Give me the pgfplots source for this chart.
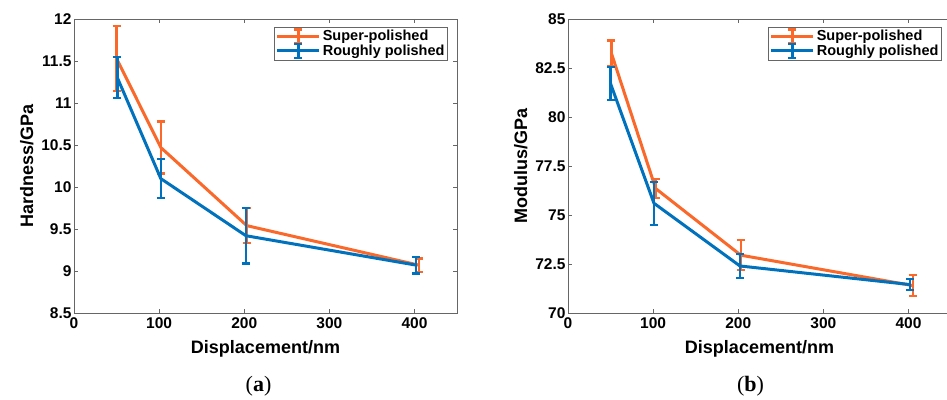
\documentclass[border=0pt]{standalone}
\usepackage{fontspec}
\setmainfont{Liberation Sans}
\newfontfamily\capfont{Liberation Serif}
\usepackage{pgfplots}
\pgfplotsset{compat=1.18}
\definecolor{morange}{RGB}{250,104,42}
\definecolor{mblue}{RGB}{0,114,189}
\pgfplotsset{
  myaxis/.style={
    scale only axis, width=383pt, height=294pt,
    xmin=0, xmax=450, xtick={0,100,200,300,400},
    tick align=inside, xtick pos=both, ytick pos=both,
    major tick length=4pt,
    axis line style={gray!80!black, line width=0.7pt},
    every tick/.style={gray!80!black, line width=0.7pt},
    /pgf/number format/assume math mode=true,
    tick label style={font=\fontsize{15.5}{17}\selectfont\bfseries},
    xticklabel style={yshift=-1pt},
    yticklabel style={xshift=1pt},
    label style={font=\fontsize{18}{20}\selectfont\bfseries},
    xlabel={Displacement/nm},
    xlabel style={yshift=-5pt},
    ylabel style={yshift=1pt},
    legend style={at={(0.976,0.973)}, anchor=north east, draw=gray!80!black, line width=0.7pt,
      font=\fontsize{14.5}{16}\selectfont\bfseries, cells={anchor=west}, inner sep=1pt, row sep=-2pt},
    legend image code/.code={
      \draw[line width=3pt] (0pt,0pt) -- (42pt,0pt);
      \draw[line width=2.4pt] (21pt,-7pt) -- (21pt,7pt);
      \draw[line width=2.2pt] (17pt,-7pt) -- (25pt,-7pt);
      \draw[line width=2.2pt] (17pt,7pt) -- (25pt,7pt);
    },
  },
  ebar/.style={line width=3pt, mark=none,
    error bars/.cd, y dir=both, y explicit,
    error bar style={line width=2.4pt},
    error mark options={rotate=90, mark size=4pt, line width=2.2pt}},
}
\begin{document}
\begin{tikzpicture}
\begin{axis}[myaxis, name=A,
  ymin=8.5, ymax=12, ytick={8.5,9,9.5,10,10.5,11,11.5,12},
  yticklabels={8.5,9,9.5,10,10.5,11,11.5,12},
  ylabel={Hardness/GPa}]
\addplot[morange, ebar] coordinates {
  (50,11.53) +- (0,0.39)
  (102,10.47) +- (0,0.31)
  (203,9.54) +- (0,0.21)
  (405,9.07) +- (0,0.08)
};
\addlegendentry{Super-polished}
\addplot[mblue, ebar] coordinates {
  (51,11.3) +- (0,0.245)
  (102,10.1) +- (0,0.23)
  (202,9.42) +- (0,0.33)
  (402,9.07) +- (0,0.1)
};
\addlegendentry{Roughly polished}
\end{axis}
\node[font=\capfont\fontsize{22}{24}\selectfont] at ([xshift=-7pt,yshift=-73pt]A.south) {(\textbf{a})};
\begin{axis}[myaxis, name=B, at={(494pt,0pt)},
  ymin=70, ymax=85, ytick={70,72.5,75,77.5,80,82.5,85},
  yticklabels={70,72.5,75,77.5,80,82.5,85},
  ylabel={Modulus/GPa}]
\addplot[morange, ebar] coordinates {
  (51,83.25) +- (0,0.65)
  (103,76.35) +- (0,0.48)
  (203,72.95) +- (0,0.76)
  (405,71.4) +- (0,0.53)
};
\addlegendentry{Super-polished}
\addplot[mblue, ebar] coordinates {
  (50,81.7) +- (0,0.84)
  (101,75.6) +- (0,1.1)
  (202,72.4) +- (0,0.63)
  (402,71.45) +- (0,0.29)
};
\addlegendentry{Roughly polished}
\end{axis}
\node[font=\capfont\fontsize{22}{24}\selectfont] at ([xshift=-9pt,yshift=-73pt]B.south) {(\textbf{b})};
\pgfresetboundingbox
\path[use as bounding box] ([xshift=-74pt,yshift=-86pt]A.south west) rectangle ++(947pt,399pt);
\end{tikzpicture}
\end{document}
